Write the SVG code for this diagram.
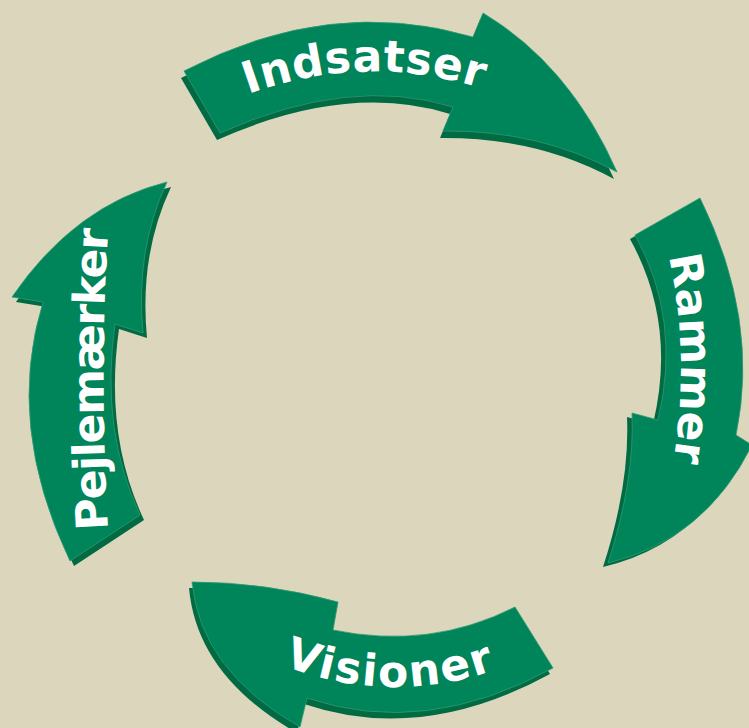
<svg xmlns="http://www.w3.org/2000/svg" xmlns:xlink="http://www.w3.org/1999/xlink" width="749" height="728" viewBox="0 0 749 728">
<style>
.face{fill:#00845A;stroke:#2E9A72;stroke-width:0.8}
.side{fill:#006A43}
.lbl{fill:#FFFFFF;font-family:"DejaVu Sans","Verdana",sans-serif;font-weight:bold;font-size:44px}
</style>
<defs>
<path id="aTop" d="M 184,71 Q 330,-5 473,37 L 483,13 Q 570,65 617,172 Q 540,130 443,131 L 453,107 Q 350,75 220,133 Z"/>
<path id="aRight" d="M 635,235 L 700,198 Q 760,320 736,435 L 752,445 Q 705,540 608,563 Q 635,480 632,413 L 658,420 Q 682,320 635,235 Z"/>
<path id="aBottom" d="M 515,607 L 553,668 Q 425,738 307,698 L 300,727 Q 200,670 192,582 Q 265,582 338,602 L 333,630 Q 430,650 515,607 Z"/>
<path id="aLeft" d="M 70,561 Q 5,425 43,302 L 12,297 Q 75,205 167,182 Q 135,250 143,333 L 115,324 Q 100,430 140,515 Z"/>
<path id="tTop" d="M 238,98 Q 365,48 492,92"/>
<path id="tRight" d="M 667,248 Q 692,355 672,470"/>
<path id="tBottom" d="M 280,664 Q 390,708 500,668"/>
<path id="tLeft" d="M 108,528 Q 99,380 108,232"/>
</defs>
<rect width="749" height="728" fill="#DBD6BC"/>
<g id="connectors"/>
<g id="indsatser">
<use xlink:href="#aTop" class="side" transform="translate(-3,7)"/>
<use xlink:href="#aTop" class="face"/>
<text class="lbl" font-size="44" letter-spacing="0.5"><textPath xlink:href="#tTop" startOffset="50%" text-anchor="middle">Indsatser</textPath></text>
</g>
<g id="rammer">
<use xlink:href="#aRight" class="side" transform="translate(-5,4)"/>
<use xlink:href="#aRight" class="face"/>
<text class="lbl" font-size="44"><textPath xlink:href="#tRight" startOffset="50%" text-anchor="middle">Rammer</textPath></text>
</g>
<g id="visioner">
<use xlink:href="#aBottom" class="side" transform="translate(-3,6)"/>
<use xlink:href="#aBottom" class="face"/>
<text class="lbl" font-size="46" letter-spacing="2"><textPath xlink:href="#tBottom" startOffset="50%" text-anchor="middle">Visioner</textPath></text>
</g>
<g id="pejlemaerker">
<use xlink:href="#aLeft" class="side" transform="translate(4,5)"/>
<use xlink:href="#aLeft" class="face"/>
<text class="lbl" font-size="36" letter-spacing="-1.5"><textPath xlink:href="#tLeft" startOffset="50%" text-anchor="middle">Pejlemærker</textPath></text>
</g>
</svg>
